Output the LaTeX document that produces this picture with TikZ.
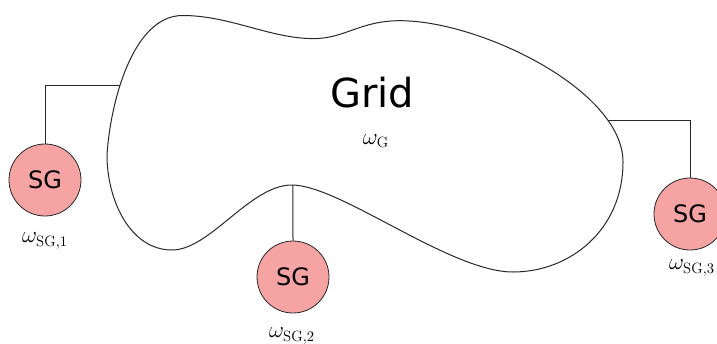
\documentclass[tikz,border=0pt]{standalone}
\usepackage{fontspec}
\usetikzlibrary{intersections}
\newfontfamily\dejavu{DejaVu Sans}
\definecolor{sgfill}{RGB}{246,163,163}
\definecolor{linec}{RGB}{40,40,40}
\begin{document}
\begin{tikzpicture}[x=0.75pt,y=-0.75pt,
  sgnode/.style={circle,draw=linec,fill=sgfill,line width=0.6pt,minimum size=54pt,inner sep=0pt,font=\dejavu\fontsize{18}{20}\selectfont},
  wire/.style={draw=linec,line width=0.75pt},
  lab/.style={inner sep=0pt,font=\fontsize{16}{18}\selectfont}]
\useasboundingbox (0,0) rectangle (717,343);
\draw[wire,name path=blob] (107,155)
  .. controls (110,105) and (132,15.5) .. (182.6,15.5)
  .. controls (230,15.5) and (270,38.6) .. (313.5,38.6)
  .. controls (345,38.6) and (360,20.7) .. (400,20.7)
  .. controls (480,20.7) and (623,90) .. (623,162)
  .. controls (623,230) and (570,272) .. (513,272)
  .. controls (450,272) and (340,185) .. (291.8,185)
  .. controls (250,185) and (210,250) .. (172,250)
  .. controls (130,250) and (107,200) .. cycle;
\node (grid) at (372,93) {\dejavu\fontsize{30}{34}\selectfont Grid};
\node[lab] (wg) at (376,141) {$\omega_{\mathrm{G}}$};
\node[sgnode] (sg1) at (45,180) {SG};
\node[sgnode] (sg2) at (293,277) {SG};
\node[sgnode] (sg3) at (690,214) {SG};
\node[lab] (w1) at (45,241) {$\omega_{\mathrm{SG},1}$};
\node[lab] (w2) at (292,336) {$\omega_{\mathrm{SG},2}$};
\node[lab] (w3) at (692,268) {$\omega_{\mathrm{SG},3}$};
\path[name path=h1] (50,86) -- (200,86);
\path[name path=h3] (500,121) -- (700,121);
\path[name path=v2] (293,150) -- (293,240);
\path[name intersections={of=blob and h1, by=b1}];
\path[name intersections={of=blob and h3, by=b3}];
\path[name intersections={of=blob and v2, by=b2}];
\draw[wire] (b1) -| (sg1);
\draw[wire] (b2) -- (sg2);
\draw[wire] (b3) -| (sg3);
\end{tikzpicture}
\end{document}
